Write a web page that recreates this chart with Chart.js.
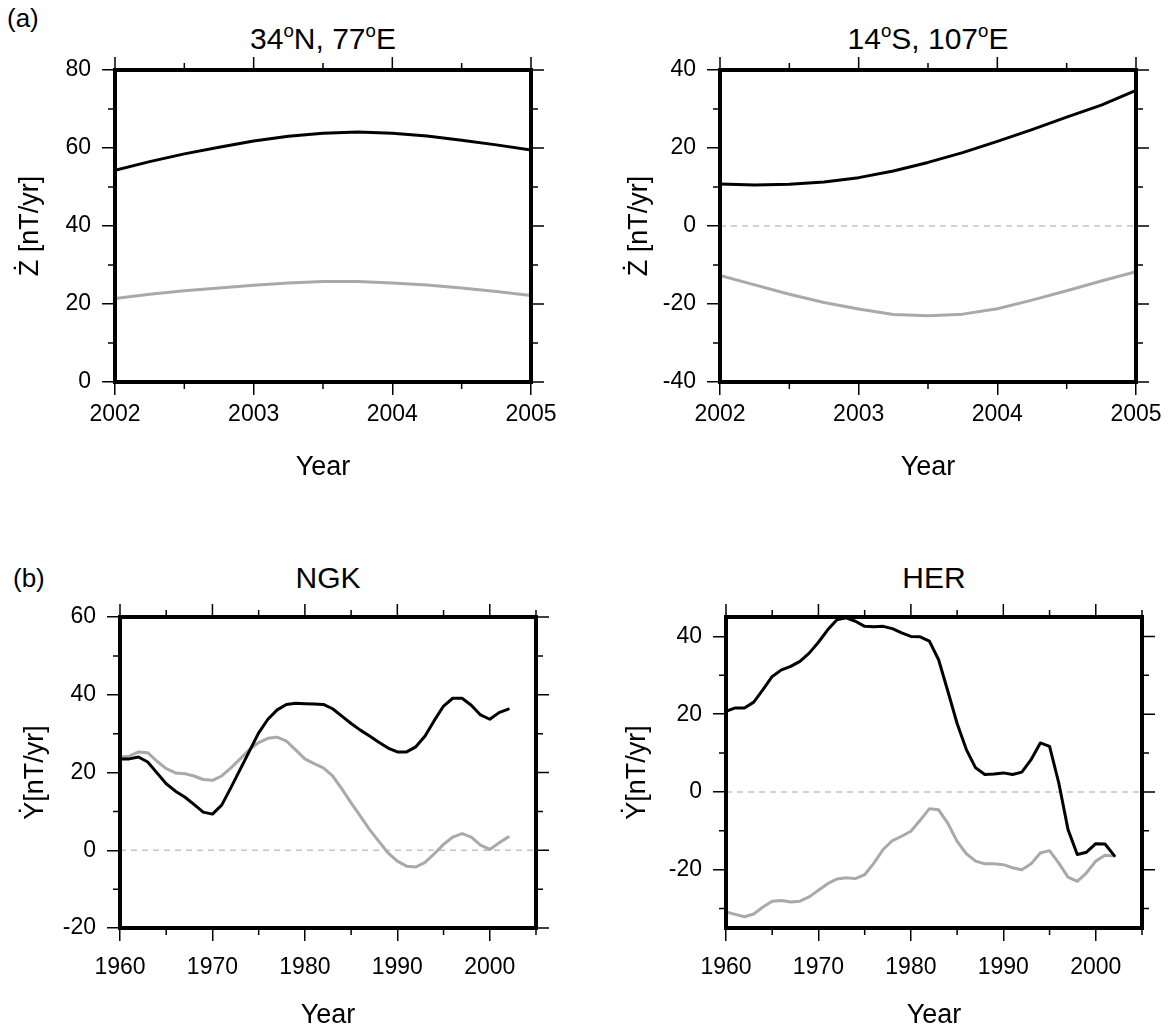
<!DOCTYPE html>
<html>
<head>
<meta charset="utf-8">
<script src="https://cdn.jsdelivr.net/npm/chart.js@4"></script>
<style>
  body { margin: 0; background: #fff; }
  #page { position: relative; width: 1174px; height: 1032px; background: #fff;
          font-family: 'Liberation Sans', Arial, sans-serif; color: #000; }
  canvas { position: absolute; }
  .lbl { position: absolute; white-space: nowrap; line-height: 1; }
  .ttl { font-size: 30px; transform: translateX(-50%); }
  .tag { font-size: 26px; }
  .sup { font-size: 62%; position: relative; top: -0.62em; }
</style>
</head>
<body>
<div id="page">
  <div class="lbl tag" style="left:7px; top:5px;">(a)</div>
  <div class="lbl ttl" style="left:323px; top:24px;">34<span class="sup">o</span>N, 77<span class="sup">o</span>E</div>
  <div class="lbl ttl" style="left:928px; top:24px;">14<span class="sup">o</span>S, 107<span class="sup">o</span>E</div>
  <div class="lbl tag" style="left:13px; top:565px;">(b)</div>
  <div class="lbl ttl" style="left:328px; top:563px;">NGK</div>
  <div class="lbl ttl" style="left:934px; top:563px;">HER</div>

  <canvas id="c1" width="587" height="516" style="left:0px; top:0px;"></canvas>
  <canvas id="c2" width="587" height="516" style="left:587px; top:0px;"></canvas>
  <canvas id="c3" width="587" height="516" style="left:0px; top:516px;"></canvas>
  <canvas id="c4" width="587" height="516" style="left:587px; top:516px;"></canvas>
</div>

<script>
// --- data ---
const quarterYears = [2002, 2002.25, 2002.5, 2002.75, 2003, 2003.25, 2003.5, 2003.75, 2004, 2004.25, 2004.5, 2004.75, 2005];
const zdot34N_black = [54.3, 56.5, 58.5, 60.2, 61.8, 63.0, 63.8, 64.1, 63.8, 63.1, 62.0, 60.8, 59.5];
const zdot34N_grey  = [21.4, 22.5, 23.4, 24.1, 24.8, 25.4, 25.8, 25.8, 25.4, 24.9, 24.1, 23.2, 22.2];
const zdot14S_black = [10.8, 10.5, 10.7, 11.3, 12.4, 14.1, 16.3, 18.8, 21.7, 24.7, 27.9, 31.0, 34.8];
const zdot14S_grey  = [-12.7, -15.1, -17.5, -19.6, -21.3, -22.7, -23.0, -22.6, -21.2, -19.0, -16.6, -14.1, -11.7];

const annualYears = [1960, 1961, 1962, 1963, 1964, 1965, 1966, 1967, 1968, 1969,
                     1970, 1971, 1972, 1973, 1974, 1975, 1976, 1977, 1978, 1979,
                     1980, 1981, 1982, 1983, 1984, 1985, 1986, 1987, 1988, 1989,
                     1990, 1991, 1992, 1993, 1994, 1995, 1996, 1997, 1998, 1999,
                     2000, 2001, 2002];
const ydotNGK_black = [23.5, 23.5, 24.0, 22.7, 19.9, 17.1, 15.2, 13.7, 11.8, 9.8,
                       9.3, 11.6, 16.1, 20.8, 25.5, 30.2, 33.7, 36.1, 37.5, 37.8,
                       37.7, 37.6, 37.5, 36.4, 34.5, 32.6, 30.9, 29.4, 27.8, 26.3,
                       25.3, 25.3, 26.6, 29.4, 33.4, 37.1, 39.1, 39.1, 37.3, 34.8,
                       33.7, 35.4, 36.3];
const ydotNGK_grey  = [24.0, 24.2, 25.3, 25.1, 22.9, 21.0, 19.9, 19.7, 19.1, 18.2,
                       18.0, 19.1, 21.2, 23.5, 25.9, 27.7, 28.8, 29.1, 28.1, 25.8,
                       23.5, 22.3, 21.2, 19.1, 15.8, 12.2, 8.8, 5.3, 2.3, -0.7,
                       -2.8, -4.1, -4.3, -3.1, -0.9, 1.5, 3.4, 4.3, 3.4, 1.3,
                       0.2, 1.9, 3.4];
const ydotHER_black = [20.7, 21.6, 21.6, 23.1, 26.3, 29.7, 31.4, 32.3, 33.6, 35.7,
                       38.5, 41.7, 44.3, 44.8, 43.9, 42.6, 42.5, 42.6, 42.0, 40.9,
                       40.0, 39.9, 38.8, 34.0, 25.9, 17.6, 10.9, 6.2, 4.5, 4.6,
                       4.9, 4.5, 5.1, 8.3, 12.6, 11.7, 2.3, -9.7, -16.1, -15.5,
                       -13.3, -13.4, -16.4];
const ydotHER_grey  = [-30.9, -31.5, -32.1, -31.4, -29.6, -28.1, -27.9, -28.3, -28.1, -27.0,
                       -25.3, -23.6, -22.4, -22.1, -22.3, -21.3, -18.3, -14.8, -12.5, -11.4,
                       -10.1, -7.3, -4.3, -4.6, -8.1, -12.7, -15.9, -17.8, -18.5, -18.5,
                       -18.7, -19.5, -20.0, -18.5, -15.7, -15.1, -18.3, -21.9, -23.0, -20.8,
                       -17.8, -16.3, -16.5];

// tick labels (major) and minor tick positions
const xTicksTop = [2002, 2003, 2004, 2005];
const xMinorTop = [2002.5, 2003.5, 2004.5];
const xTicksBottom = [1960, 1970, 1980, 1990, 2000];
const xMinorBottom = [1965, 1975, 1985, 1995, 2005];
const yTicks34N = [0, 20, 40, 60, 80];
const yMinor34N = [10, 30, 50, 70];
const yTicks14S = [-40, -20, 0, 20, 40];
const yMinor14S = [-30, -10, 10, 30];
const yTicksNGK = [-20, 0, 20, 40, 60];
const yMinorNGK = [-10, 10, 30, 50];
const yTicksHER = [-20, 0, 20, 40];
const yMinorHER = [-30, -10, 10, 30];

Chart.defaults.font.family = "'Liberation Sans', Arial, sans-serif";
Chart.defaults.color = '#000';

const BLACK = '#000000';
const GREY = '#a9a9a9';
const MAJOR = 13, MINOR = 7;

function pts(xs, ys) {
    return xs.map(function(x, i) { return {x: x, y: ys[i]}; });
}

// frame, mirrored ticks, minor ticks, dashed zero line
const framePlugin = {
    id: 'frame',
    beforeDatasetsDraw(chart, args, o) {
        if (!o.zeroLine) return;
        const a = chart.chartArea, ctx = chart.ctx;
        const py = chart.scales.y.getPixelForValue(0);
        ctx.save();
        ctx.strokeStyle = '#c4c4c4';
        ctx.lineWidth = 1.5;
        ctx.setLineDash([6, 5]);
        ctx.beginPath();
        ctx.moveTo(a.left, py);
        ctx.lineTo(a.right, py);
        ctx.stroke();
        ctx.restore();
    },
    afterDraw(chart, args, o) {
        const a = chart.chartArea, ctx = chart.ctx;
        const xs = chart.scales.x, ys = chart.scales.y;
        ctx.save();
        ctx.strokeStyle = '#000';
        ctx.lineWidth = 1.5;
        ctx.beginPath();
        o.xMajor.forEach(function(v) {
            const p = xs.getPixelForValue(v);
            ctx.moveTo(p, a.top); ctx.lineTo(p, a.top - MAJOR);
        });
        o.xMinor.forEach(function(v) {
            const p = xs.getPixelForValue(v);
            ctx.moveTo(p, a.top); ctx.lineTo(p, a.top - MINOR);
            ctx.moveTo(p, a.bottom); ctx.lineTo(p, a.bottom + MINOR);
        });
        o.yMajor.forEach(function(v) {
            const p = ys.getPixelForValue(v);
            ctx.moveTo(a.right, p); ctx.lineTo(a.right + MAJOR, p);
        });
        o.yMinor.forEach(function(v) {
            const p = ys.getPixelForValue(v);
            ctx.moveTo(a.left, p); ctx.lineTo(a.left - MINOR, p);
            ctx.moveTo(a.right, p); ctx.lineTo(a.right + MINOR, p);
        });
        ctx.stroke();
        ctx.lineWidth = 4;
        ctx.strokeRect(a.left, a.top, a.right - a.left, a.bottom - a.top);
        ctx.restore();
    }
};

function makePanel(id, p) {
    new Chart(document.getElementById(id), {
        type: 'line',
        data: {
            datasets: [
                { data: pts(p.xs, p.black), borderColor: BLACK, borderWidth: 3 },
                { data: pts(p.xs, p.grey), borderColor: GREY, borderWidth: 3 }
            ]
        },
        options: {
            responsive: false,
            animation: false,
            devicePixelRatio: 1,
            elements: { point: { radius: 0 }, line: { tension: 0, borderCapStyle: 'round', borderJoinStyle: 'round' } },
            layout: { padding: { top: p.top, right: p.right, left: 0, bottom: 0 } },
            plugins: {
                legend: { display: false },
                tooltip: { enabled: false },
                frame: { zeroLine: p.zeroLine, xMajor: p.xTicks, xMinor: p.xMinor, yMajor: p.yTicks, yMinor: p.yMinor }
            },
            scales: {
                x: {
                    type: 'linear',
                    min: p.xTicks[0],
                    max: p.xMax,
                    afterBuildTicks: function(s) { s.ticks = p.xTicks.map(function(v) { return {value: v}; }); },
                    afterFit: function(s) { s.height = p.bottomH; },
                    ticks: { font: { size: 23 }, padding: p.xPad, maxRotation: 0, callback: function(v) { return String(v); } },
                    grid: { drawOnChartArea: false, drawTicks: true, tickLength: MAJOR, color: '#000', lineWidth: 1.5 },
                    border: { display: false },
                    title: { display: true, text: 'Year', font: { size: 27 }, padding: { top: 0, bottom: p.yearPad } }
                },
                y: {
                    type: 'linear',
                    min: p.yMin,
                    max: p.yMax,
                    afterBuildTicks: function(s) { s.ticks = p.yTicks.map(function(v) { return {value: v}; }); },
                    afterFit: function(s) { s.width = p.leftW; },
                    ticks: { font: { size: 23 }, padding: 11 },
                    grid: { drawOnChartArea: false, drawTicks: true, tickLength: MAJOR, color: '#000', lineWidth: 1.5 },
                    border: { display: false },
                    title: { display: true, text: p.yTitle, font: { size: 27 }, padding: { top: p.yTitlePad, bottom: 0 } }
                }
            }
        },
        plugins: [framePlugin]
    });
}

makePanel('c1', { xs: quarterYears, black: zdot34N_black, grey: zdot34N_grey,
    xTicks: xTicksTop, xMinor: xMinorTop, xMax: 2005, yTicks: yTicks34N, yMinor: yMinor34N,
    yMin: 0, yMax: 80, zeroLine: false, yTitle: 'Ż [nT/yr]',
    top: 70, right: 56, leftW: 115, bottomH: 134, xPad: 6, yearPad: 32, yTitlePad: 14 });

makePanel('c2', { xs: quarterYears, black: zdot14S_black, grey: zdot14S_grey,
    xTicks: xTicksTop, xMinor: xMinorTop, xMax: 2005, yTicks: yTicks14S, yMinor: yMinor14S,
    yMin: -40, yMax: 40, zeroLine: true, yTitle: 'Ż [nT/yr]',
    top: 70, right: 38, leftW: 133, bottomH: 134, xPad: 6, yearPad: 32, yTitlePad: 36 });

makePanel('c3', { xs: annualYears, black: ydotNGK_black, grey: ydotNGK_grey,
    xTicks: xTicksBottom, xMinor: xMinorBottom, xMax: 2005, yTicks: yTicksNGK, yMinor: yMinorNGK,
    yMin: -20, yMax: 60, zeroLine: true, yTitle: 'Ẏ[nT/yr]',
    top: 101, right: 51, leftW: 120, bottomH: 104, xPad: 13, yearPad: 0, yTitlePad: 19 });

makePanel('c4', { xs: annualYears, black: ydotHER_black, grey: ydotHER_grey,
    xTicks: xTicksBottom, xMinor: xMinorBottom, xMax: 2005, yTicks: yTicksHER, yMinor: yMinorHER,
    yMin: -35, yMax: 45, zeroLine: true, yTitle: 'Ẏ[nT/yr]',
    top: 101, right: 32, leftW: 139, bottomH: 104, xPad: 13, yearPad: 0, yTitlePad: 34 });
</script>
</body>
</html>
